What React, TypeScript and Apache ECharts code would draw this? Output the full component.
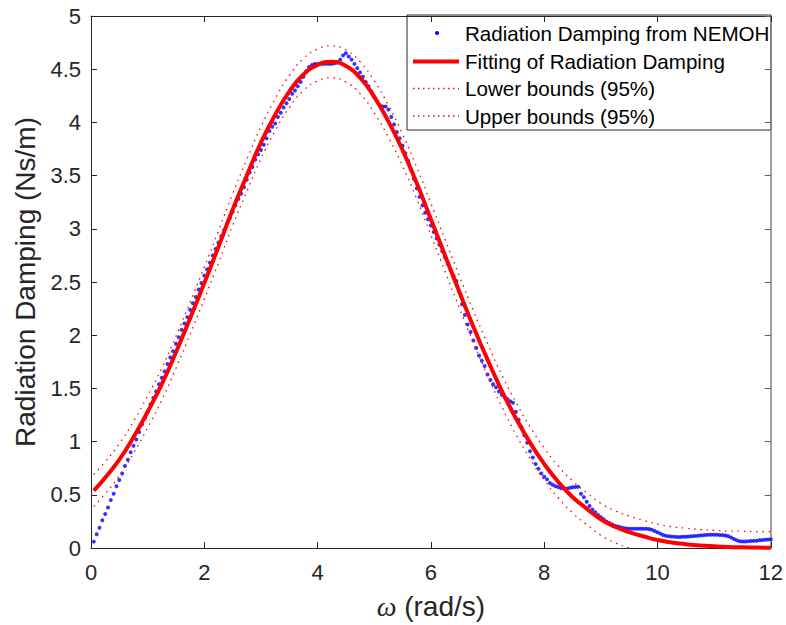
import React, { useEffect, useRef } from "react";
import * as echarts from "echarts";

// ---------------- data ----------------
const OMEGA_START = 0.05;
const OMEGA_STEP = 0.05;

// Radiation damping from NEMOH, one value every 0.05 rad/s from 0.05 to 12
const nemohDamping = [
  0.06, 0.13, 0.19, 0.26, 0.32, 0.38, 0.45, 0.51, 0.58, 0.64, 0.70, 0.77, 0.83, 0.90, 0.96, 1.02, 1.09, 1.16, 1.22, 1.28,
  1.35, 1.41, 1.47, 1.54, 1.60, 1.66, 1.73, 1.79, 1.85, 1.92, 1.98, 2.05, 2.11, 2.17, 2.24, 2.30, 2.36, 2.43, 2.49, 2.56,
  2.62, 2.68, 2.75, 2.81, 2.87, 2.93, 2.99, 3.05, 3.10, 3.16, 3.22, 3.28, 3.33, 3.39, 3.46, 3.53, 3.58, 3.65, 3.70, 3.74,
  3.79, 3.85, 3.92, 3.96, 3.99, 4.05, 4.09, 4.14, 4.18, 4.22, 4.27, 4.30, 4.34, 4.38, 4.43, 4.48, 4.52, 4.54, 4.55, 4.55,
  4.55, 4.55, 4.55, 4.55, 4.55, 4.555, 4.56, 4.59, 4.63, 4.65, 4.62, 4.59, 4.55, 4.51, 4.47, 4.43, 4.38, 4.34, 4.29, 4.24,
  4.20, 4.16, 4.15, 4.15, 4.12, 4.05, 3.98, 3.91, 3.85, 3.78, 3.71, 3.64, 3.56, 3.47, 3.38, 3.30, 3.22, 3.15, 3.09, 3.03,
  2.97, 2.91, 2.85, 2.79, 2.73, 2.67, 2.61, 2.56, 2.51, 2.41, 2.29, 2.19, 2.10, 2.03, 1.95, 1.88, 1.81, 1.76, 1.71, 1.63,
  1.58, 1.54, 1.51, 1.47, 1.44, 1.42, 1.40, 1.38, 1.365, 1.28, 1.205, 1.135, 1.06, 0.99, 0.91, 0.85, 0.79, 0.745, 0.70, 0.67,
  0.645, 0.61, 0.595, 0.58, 0.572, 0.562, 0.556, 0.56, 0.565, 0.57, 0.573, 0.576, 0.51, 0.478, 0.435, 0.395, 0.362, 0.335, 0.31, 0.29,
  0.27, 0.25, 0.235, 0.22, 0.21, 0.203, 0.195, 0.188, 0.183, 0.181, 0.181, 0.181, 0.181, 0.181, 0.18, 0.18, 0.178, 0.172, 0.16, 0.148,
  0.135, 0.122, 0.114, 0.11, 0.107, 0.105, 0.104, 0.104, 0.105, 0.106, 0.108, 0.11, 0.112, 0.114, 0.117, 0.12, 0.122, 0.124, 0.125, 0.125,
  0.124, 0.123, 0.121, 0.118, 0.11, 0.098, 0.085, 0.072, 0.063, 0.061, 0.062, 0.063, 0.065, 0.067, 0.069, 0.072, 0.075, 0.077, 0.079, 0.081,
];

const fitOmega = [
  0.05, 0.25, 0.5, 0.75, 1, 1.25, 1.5, 1.75, 2, 2.25, 2.5, 2.75, 3, 3.25, 3.5, 3.75, 4, 4.25, 4.5, 4.75, 5, 5.25, 5.5, 5.75,
  6, 6.25, 6.5, 6.75, 7, 7.25, 7.5, 7.75, 8, 8.25, 8.5, 8.75, 9, 9.25, 9.5, 9.75, 10, 10.25, 10.5, 10.75, 11, 11.25, 11.5, 11.75, 12,
];
const fitDamping = [
  0.54, 0.66, 0.83, 1.04, 1.28, 1.54, 1.84, 2.16, 2.49, 2.83, 3.18, 3.50, 3.81, 4.07, 4.29, 4.45, 4.54, 4.57, 4.53, 4.42, 4.24, 4.01, 3.74, 3.43,
  3.09, 2.75, 2.41, 2.08, 1.77, 1.48, 1.22, 0.99, 0.79, 0.62, 0.48, 0.37, 0.27, 0.20, 0.15, 0.11, 0.075, 0.052, 0.036, 0.024, 0.016, 0.010, 0.007, 0.004, 0.003,
];
const lowerBound = [
  0.39, 0.51, 0.68, 0.89, 1.13, 1.39, 1.69, 2.01, 2.34, 2.68, 3.03, 3.35, 3.66, 3.92, 4.14, 4.30, 4.39, 4.42, 4.38, 4.27, 4.09, 3.86, 3.59, 3.28,
  2.94, 2.60, 2.26, 1.93, 1.62, 1.33, 1.07, 0.84, 0.64, 0.47, 0.33, 0.22, 0.12, 0.05, 0.0, -0.04, -0.075, -0.10, -0.114, -0.126, -0.134, -0.14, -0.143, -0.146, -0.147,
];
const upperBound = [
  0.69, 0.81, 0.98, 1.19, 1.43, 1.69, 1.99, 2.31, 2.64, 2.98, 3.33, 3.65, 3.96, 4.22, 4.44, 4.60, 4.69, 4.72, 4.68, 4.57, 4.39, 4.16, 3.89, 3.58,
  3.24, 2.90, 2.56, 2.23, 1.92, 1.63, 1.37, 1.14, 0.94, 0.77, 0.63, 0.52, 0.42, 0.35, 0.30, 0.26, 0.225, 0.20, 0.186, 0.174, 0.166, 0.16, 0.157, 0.154, 0.153,
];

const legendLabels = [
  "Radiation Damping from NEMOH",
  "Fitting of Radiation Damping",
  "Lower bounds (95%)",
  "Upper bounds (95%)",
];
const xAxisTitle = "{w|ω} (rad/s)";
const yAxisTitle = "Radiation Damping (Ns/m)";

// ---------------- chart ----------------
const AXIS_COLOR = "#262626";
const FONT = "'Liberation Sans', Arial, Helvetica, sans-serif";
const DOT_DASH = [1.5, 4.7];

export default function App() {
  const ref = useRef<HTMLDivElement>(null);

  useEffect(() => {
    if (!ref.current) return;
    const chart = echarts.init(ref.current, undefined, { renderer: "svg" });

    const nemohData = nemohDamping.map((v, i) => [
      Number((OMEGA_START + i * OMEGA_STEP).toFixed(2)),
      v,
    ]);
    const pair = (ys: number[]) => fitOmega.map((x, i) => [x, ys[i]]);

    const gridLeft = 91;
    const gridRight = 15;
    const gridTop = 16;
    const gridBottom = 76;

    const baseX = {
      type: "value",
      min: 0,
      max: 12,
      interval: 2,
      splitLine: { show: false },
    };
    const baseY = {
      type: "value",
      min: 0,
      max: 5,
      interval: 0.5,
      splitLine: { show: false },
    };

    const legX = 407;
    const legY = 15;
    const legW = 364;
    const legH = 115;
    const rowY = [33, 61.5, 88.5, 116];
    const iconX0 = 413;
    const iconX1 = 459;
    const textX = 465;

    const option: any = {
      animation: false,
      backgroundColor: "#ffffff",
      grid: { left: gridLeft, right: gridRight, top: gridTop, bottom: gridBottom },
      xAxis: [
        {
          ...baseX,
          position: "bottom",
          axisLine: { onZero: false, lineStyle: { color: AXIS_COLOR, width: 1 } },
          axisTick: { inside: true, length: 6, lineStyle: { color: AXIS_COLOR } },
          axisLabel: { color: AXIS_COLOR, fontSize: 22, fontFamily: FONT, margin: 13 },
          name: xAxisTitle,
          nameLocation: "middle",
          nameGap: 44,
          nameTextStyle: {
            color: AXIS_COLOR,
            fontSize: 28,
            fontFamily: FONT,
            rich: {
              w: {
                fontStyle: "italic",
                fontFamily: "'Liberation Serif', 'DejaVu Serif', serif",
                fontSize: 28,
                color: AXIS_COLOR,
              },
            },
          },
        },
        {
          ...baseX,
          position: "top",
          axisLine: { onZero: false, lineStyle: { color: AXIS_COLOR, width: 1 } },
          axisTick: { inside: true, length: 6, lineStyle: { color: AXIS_COLOR } },
          axisLabel: { show: false },
        },
      ],
      yAxis: [
        {
          ...baseY,
          position: "left",
          axisLine: { show: true, onZero: false, lineStyle: { color: AXIS_COLOR, width: 1 } },
          axisTick: { show: true, inside: true, length: 6, lineStyle: { color: AXIS_COLOR } },
          axisLabel: { color: AXIS_COLOR, fontSize: 22, fontFamily: FONT, margin: 10 },
          name: yAxisTitle,
          nameLocation: "middle",
          nameRotate: 90,
          nameGap: 47,
          nameTextStyle: { color: AXIS_COLOR, fontSize: 28, fontFamily: FONT },
        },
        {
          ...baseY,
          position: "right",
          axisLine: { show: true, onZero: false, lineStyle: { color: "#808080", width: 1.5 } },
          axisTick: { show: true, inside: true, length: 6, lineStyle: { color: "#606060" } },
          axisLabel: { show: false },
        },
      ],
      series: [
        {
          name: legendLabels[0],
          type: "scatter",
          data: nemohData,
          symbol: "circle",
          symbolSize: 4,
          itemStyle: { color: "#0000ff" },
          z: 2,
        },
        {
          name: legendLabels[1],
          type: "line",
          data: pair(fitDamping),
          showSymbol: false,
          symbol: "none",
          smooth: true,
          clip: true,
          lineStyle: { color: "#ff0000", width: 4 },
          z: 3,
        },
        {
          name: legendLabels[2],
          type: "line",
          data: pair(lowerBound),
          showSymbol: false,
          symbol: "none",
          smooth: true,
          clip: true,
          lineStyle: { color: "#ff0000", width: 1.3, type: DOT_DASH },
          z: 4,
        },
        {
          name: legendLabels[3],
          type: "line",
          data: pair(upperBound),
          showSymbol: false,
          symbol: "none",
          smooth: true,
          clip: true,
          lineStyle: { color: "#ff0000", width: 1.3, type: DOT_DASH },
          z: 4,
        },
      ],
      graphic: [
        {
          type: "group",
          z: 100,
          children: [
            {
              type: "rect",
              shape: { x: legX, y: legY, width: legW, height: legH },
              style: { fill: "#ffffff", stroke: AXIS_COLOR, lineWidth: 1 },
            },
            {
              type: "circle",
              shape: { cx: (iconX0 + iconX1) / 2 + 1, cy: rowY[0], r: 2 },
              style: { fill: "#0000ff" },
            },
            {
              type: "line",
              shape: { x1: iconX0, y1: rowY[1], x2: iconX1, y2: rowY[1] },
              style: { stroke: "#ff0000", lineWidth: 4 },
            },
            {
              type: "line",
              shape: { x1: iconX0, y1: rowY[2], x2: iconX1, y2: rowY[2] },
              style: { stroke: "#ff0000", lineWidth: 1.3, lineDash: [1.5, 3.5] },
            },
            {
              type: "line",
              shape: { x1: iconX0, y1: rowY[3], x2: iconX1, y2: rowY[3] },
              style: { stroke: "#ff0000", lineWidth: 1.3, lineDash: [1.5, 3.5] },
            },
            ...legendLabels.map((t, i) => ({
              type: "text",
              x: textX,
              y: rowY[i],
              style: {
                text: t,
                fill: "#000000",
                fontSize: 20.6,
                fontFamily: FONT,
                verticalAlign: "middle",
                align: "left",
              },
            })),
          ],
        },
      ],
    };

    chart.setOption(option);
    return () => chart.dispose();
  }, []);

  return (
    <div
      ref={ref}
      style={{ position: "fixed", left: 0, top: 0, width: 786, height: 625, background: "#fff" }}
    />
  );
}
